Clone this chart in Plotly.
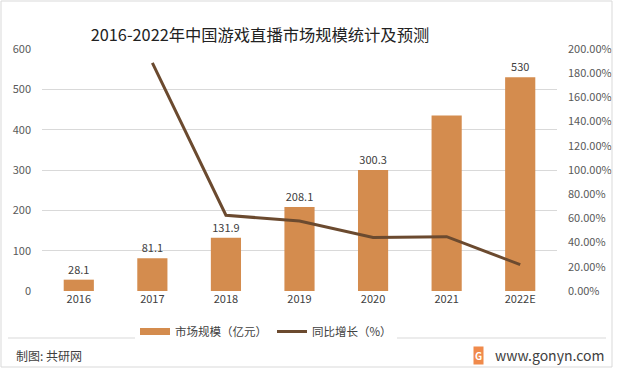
import plotly.graph_objects as go

years = ["2016", "2017", "2018", "2019", "2020", "2021", "2022E"]
market_size = [28.1, 81.1, 131.9, 208.1, 300.3, 435, 530]
bar_labels = ["28.1", "81.1", "131.9", "208.1", "300.3", "", "530"]
growth_years = ["2017", "2018", "2019", "2020", "2021", "2022E"]
growth = [1.886, 0.626, 0.578, 0.443, 0.449, 0.218]

FONT = "Noto Sans CJK SC, Microsoft YaHei, sans-serif"
BAR_C = "#D48C4E"
LINE_C = "#6B4A2F"
TXT_C = "#595959"

W, H = 619, 373
L, R, T, B = 42, 62, 49, 82
PW, PH = W - L - R, H - T - B


def px(x):
    return (x - L) / PW


def py(y):
    return (H - B - y) / PH


fig = go.Figure()
fig.add_trace(go.Bar(
    x=years, y=market_size, name="市场规模（亿元）",
    marker=dict(color=BAR_C, line=dict(width=0)),
    width=0.41, showlegend=False,
    text=bar_labels, textposition="outside", cliponaxis=False,
    textfont=dict(size=11, color="#404040", family=FONT),
))
fig.add_trace(go.Scatter(
    x=[None], y=[None], name="市场规模（亿元）",
    mode="lines", line=dict(color=BAR_C, width=7),
))
fig.add_trace(go.Scatter(
    x=growth_years, y=growth, name="同比增长（%）", yaxis="y2",
    mode="lines", line=dict(color=LINE_C, width=3),
))

fig.update_layout(
    width=W, height=H,
    margin=dict(l=L, r=R, t=T, b=B, autoexpand=False),
    paper_bgcolor="white", plot_bgcolor="white",
    font=dict(family=FONT, size=11, color=TXT_C),
    title=dict(text="2016-2022年中国游戏直播市场规模统计及预测",
               x=px(260), xref="paper", xanchor="center",
               y=1 - 35 / H, yref="container", yanchor="middle",
               font=dict(size=16.3, color="#222222", family=FONT)),
    bargap=0.59,
    xaxis=dict(showgrid=False, showline=False, ticks="", zeroline=False,
               tickfont=dict(size=11, color="#404040")),
    yaxis=dict(range=[0, 600], dtick=100, showgrid=True, gridcolor="#D9D9D9",
               gridwidth=1, zeroline=False, showline=False, ticks="",
               ticklabelstandoff=10, tickfont=dict(size=11, color=TXT_C)),
    yaxis2=dict(range=[0, 2], dtick=0.2, tickformat=".2%", overlaying="y",
                side="right", showgrid=False, zeroline=False, showline=False,
                ticks="", ticklabelstandoff=10,
                tickfont=dict(size=11, color=TXT_C)),
    legend=dict(orientation="h", x=px(266), xanchor="center", y=py(317),
                yanchor="top", font=dict(size=11.5, color="#404040"),
                itemwidth=30, traceorder="normal"),
    showlegend=True,
)

# outer frame
fig.add_shape(type="rect", xref="paper", yref="paper",
              x0=px(1), x1=px(612), y0=py(367), y1=py(1),
              line=dict(color="#D9D9D9", width=1), fillcolor="rgba(0,0,0,0)")
# separator line
fig.add_shape(type="line", xref="paper", yref="paper",
              x0=px(8), x1=px(606), y0=py(338), y1=py(338),
              line=dict(color="#D9D9D9", width=1))
fig.add_annotation(text="制图: 共研网", xref="paper", yref="paper",
                   x=px(14), y=py(355), xanchor="left", yanchor="middle",
                   showarrow=False, font=dict(size=12, color="#404040"))
fig.add_annotation(text="www.gonyn.com", xref="paper", yref="paper",
                   x=px(606), y=py(355), xanchor="right", yanchor="middle",
                   showarrow=False, font=dict(size=14, color="#404040"))
fig.add_annotation(text="<b>G</b>", xref="paper", yref="paper",
                   x=px(478), y=py(355), xanchor="center", yanchor="middle",
                   showarrow=False, bgcolor="#F08A4B",
                   font=dict(size=10, color="white"))

fig.write_html("out.html", post_script="document.body.style.margin='0';",
               config={"displayModeBar": False})
